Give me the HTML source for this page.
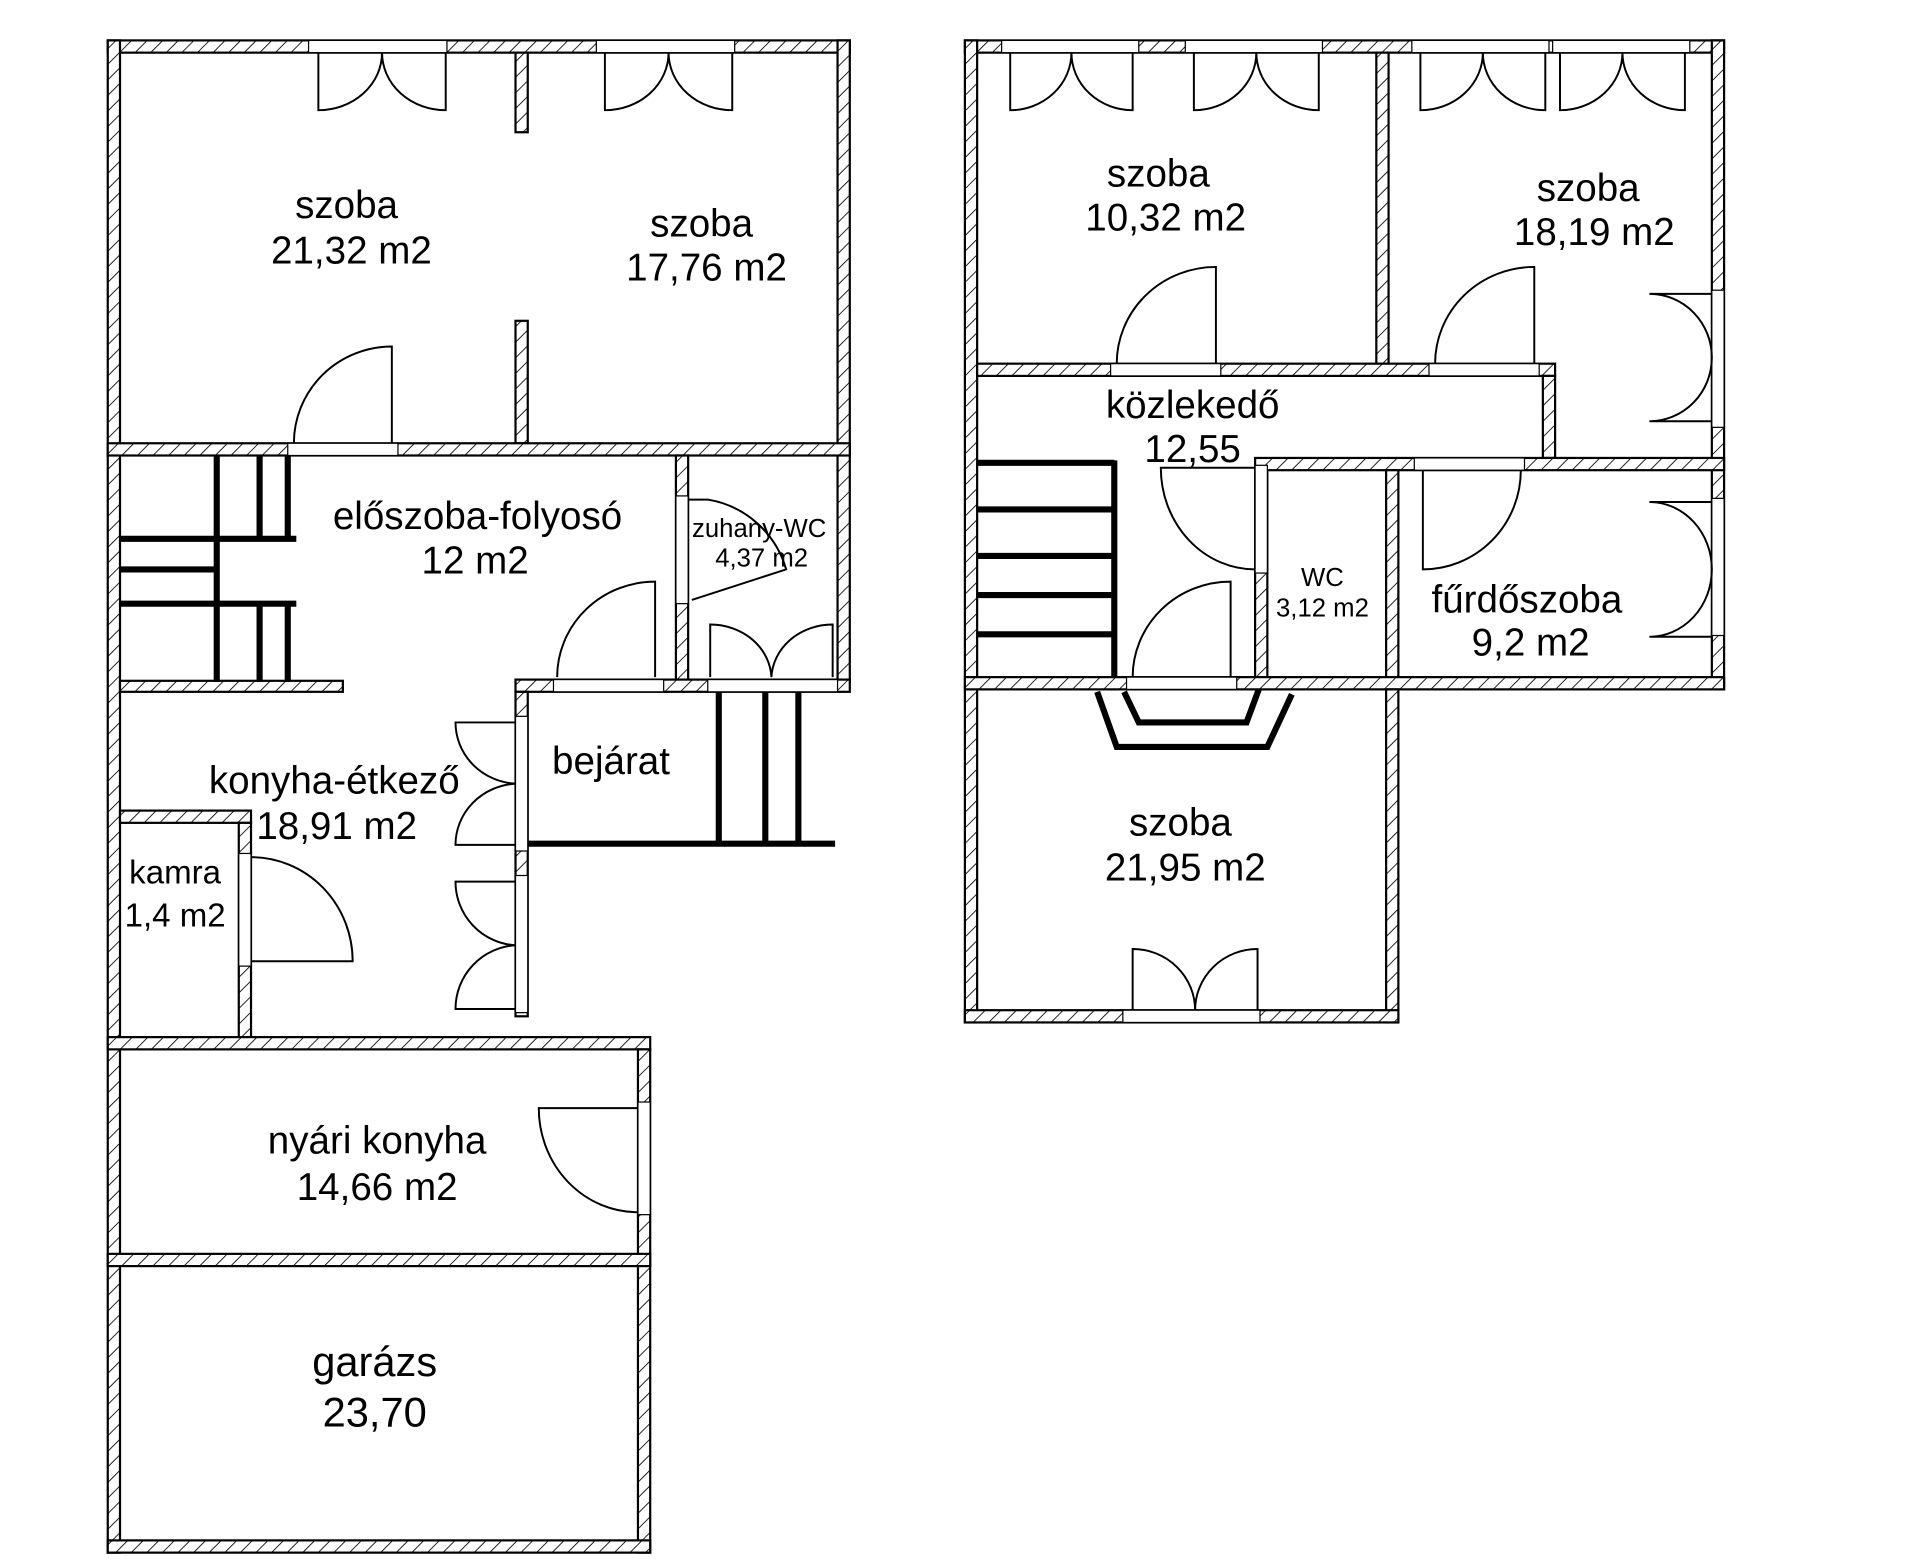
<!DOCTYPE html>
<html><head><meta charset="utf-8"><style>html,body{margin:0;padding:0;background:#fff}svg{display:block}</style></head>
<body>
<svg width="1920" height="1559" viewBox="0 0 1568 1273.2" preserveAspectRatio="none" xmlns="http://www.w3.org/2000/svg">
<defs>
<pattern id="h" width="9" height="9" patternUnits="userSpaceOnUse" patternTransform="rotate(45)">
<rect width="9" height="9" fill="#fff"/><line x1="0" y1="0" x2="0" y2="9" stroke="#000" stroke-width="1.4"/>
</pattern>
</defs>
<g fill="url(#h)" stroke="#000" stroke-width="1.8">
<rect x="88" y="33" width="606" height="10"/>
<rect x="88" y="33" width="10" height="1235"/>
<rect x="684" y="33" width="10" height="524"/>
<rect x="421" y="43" width="10" height="65"/>
<rect x="421" y="262" width="10" height="100"/>
<rect x="88" y="362" width="606" height="10"/>
<rect x="552" y="372" width="10" height="185"/>
<rect x="421" y="555" width="273" height="10"/>
<rect x="98" y="556" width="182" height="9"/>
<rect x="421" y="565" width="10" height="265"/>
<rect x="98" y="662" width="107" height="10"/>
<rect x="195" y="672" width="10" height="178"/>
<rect x="88" y="847" width="443" height="10"/>
<rect x="521" y="857" width="10" height="411"/>
<rect x="88" y="1024" width="443" height="10"/>
<rect x="88" y="1258" width="443" height="10"/>
<rect x="788" y="33" width="620" height="10"/>
<rect x="788" y="33" width="10" height="802"/>
<rect x="1398" y="33" width="10" height="530"/>
<rect x="1124" y="43" width="10" height="254"/>
<rect x="798" y="297" width="472" height="10"/>
<rect x="1260" y="307" width="10" height="67"/>
<rect x="1025" y="374" width="383" height="10"/>
<rect x="1025" y="384" width="10" height="169"/>
<rect x="1132" y="384" width="10" height="169"/>
<rect x="788" y="553" width="620" height="10"/>
<rect x="1132" y="563" width="10" height="272"/>
<rect x="788" y="825" width="354" height="10"/>
</g>
<g fill="#fff" stroke="#000" stroke-width="1">
<rect x="252" y="33" width="113" height="10"/><rect x="487" y="33" width="113" height="10"/>
<rect x="235" y="362" width="90" height="10"/><rect x="452" y="555" width="90" height="10"/>
<rect x="578" y="555" width="106" height="10"/>
<rect x="421" y="585" width="10" height="110"/><rect x="421" y="715" width="10" height="112"/>
<rect x="195" y="697" width="10" height="92"/><rect x="521" y="900" width="10" height="92"/>
<rect x="552" y="405" width="10" height="88"/>
<rect x="818" y="33" width="112" height="10"/><rect x="968" y="33" width="112" height="10"/>
<rect x="1153" y="33" width="112" height="10"/><rect x="1268" y="33" width="112" height="10"/>
<rect x="907" y="297" width="90" height="10"/><rect x="1167" y="297" width="90" height="10"/>
<rect x="1398" y="237" width="10" height="112"/><rect x="1398" y="407" width="10" height="112"/>
<rect x="1025" y="380" width="10" height="88"/><rect x="920" y="553" width="90" height="10"/>
<rect x="1155" y="374" width="90" height="10"/><rect x="917" y="825" width="112" height="10"/>
</g>
<g stroke="#000" stroke-width="5" fill="none">
<line x1="177" y1="372" x2="177" y2="557"/><line x1="212" y1="372" x2="212" y2="440"/><line x1="235" y1="372" x2="235" y2="440"/>
<line x1="212" y1="493" x2="212" y2="557"/><line x1="235" y1="493" x2="235" y2="557"/>
<line x1="98" y1="440" x2="242" y2="440"/><line x1="98" y1="465" x2="178" y2="465"/><line x1="98" y1="493" x2="242" y2="493"/>
<line x1="431" y1="689" x2="682" y2="689"/>
<line x1="587" y1="565" x2="587" y2="689"/><line x1="625" y1="565" x2="625" y2="689"/><line x1="652" y1="565" x2="652" y2="689"/>
<line x1="910" y1="376" x2="910" y2="553"/>
<line x1="798" y1="378" x2="910" y2="378"/><line x1="798" y1="416" x2="910" y2="416"/><line x1="798" y1="454" x2="910" y2="454"/><line x1="798" y1="486" x2="910" y2="486"/><line x1="798" y1="518" x2="910" y2="518"/>
<polyline points="896,565 912,610 1035,610 1055,567"/>
<polyline points="918,565 930,590 1018,590 1028,563"/>
</g>
<g stroke="#000" stroke-width="1.6" fill="none">
<path d="M260 43 V90 A52 47 0 0 0 312 43 A52 47 0 0 0 364 90 V43"/>
<path d="M494 43 V90 A52 47 0 0 0 546 43 A52 47 0 0 0 598 90 V43"/>
<path d="M320 362 V283 A80 79 0 0 0 240 362"/>
<path d="M535 553 V475 A80 78 0 0 0 455 553"/>
<path d="M562 408 H578 A80 80 0 0 1 642 465 L565 490"/>
<path d="M580 553 V510 A50 45 0 0 1 630 553 A50 45 0 0 1 680 510 V553"/>
<path d="M421 590 H372 A52 50 0 0 0 421 640 A52 50 0 0 0 372 690 H421"/>
<path d="M421 720 H372 A52 52 0 0 0 421 772 A52 52 0 0 0 372 824 H421"/>
<path d="M205 785 H288 A83 85 0 0 0 205 700"/>
<path d="M521 905 H440 A81 85 0 0 0 521 990"/>
<path d="M825 43 V90 A50 47 0 0 0 875 43 A50 47 0 0 0 925 90 V43"/>
<path d="M975 43 V90 A51 47 0 0 0 1026 43 A51 47 0 0 0 1077 90 V43"/>
<path d="M1160 43 V90 A51 47 0 0 0 1211 43 A51 47 0 0 0 1262 90 V43"/>
<path d="M1274 43 V90 A51 47 0 0 0 1325 43 A51 47 0 0 0 1376 90 V43"/>
<path d="M993 297 V218 A81 79 0 0 0 912 297"/>
<path d="M1253 297 V218 A81 79 0 0 0 1172 297"/>
<path d="M1398 240 H1347 A51 52 0 0 1 1398 292 A51 52 0 0 1 1347 344 H1398"/>
<path d="M1398 410 H1347 A51 55 0 0 1 1398 465 A51 55 0 0 1 1347 520 H1398"/>
<path d="M1025 382 H948 A77 83 0 0 0 1025 465"/>
<path d="M1005 553 V475 A80 78 0 0 0 925 553"/>
<path d="M1162 384 V465 A80 81 0 0 0 1242 384"/>
<path d="M925 825 V775 A51 50 0 0 1 976 825 A51 50 0 0 1 1027 775 V825"/>
</g>
<g font-family="Liberation Sans, sans-serif" font-size="31.5" fill="#000" text-anchor="middle" dominant-baseline="central">
<text x="283" y="168">szoba</text><text x="287" y="205">21,32 m2</text>
<text x="573" y="183">szoba</text><text x="577" y="219">17,76 m2</text>
<text x="390" y="422">előszoba-folyosó</text><text x="388" y="458">12 m2</text>
<text x="620" y="432" font-size="21">zuhany-WC</text><text x="622" y="456" font-size="21">4,37 m2</text>
<text x="499" y="622">bejárat</text>
<text x="273" y="638">konyha-étkező</text><text x="275" y="675">18,91 m2</text>
<text x="143" y="713" font-size="27">kamra</text><text x="143" y="748" font-size="27">1,4 m2</text>
<text x="308" y="932">nyári konyha</text><text x="308" y="970">14,66 m2</text>
<text x="306" y="1112" font-size="34">garázs</text><text x="306" y="1153" font-size="34">23,70</text>
<text x="946" y="142">szoba</text><text x="952" y="178">10,32 m2</text>
<text x="1297" y="154">szoba</text><text x="1302" y="190">18,19 m2</text>
<text x="974" y="331">közlekedő</text><text x="974" y="367">12,55</text>
<text x="1080" y="472" font-size="21">WC</text><text x="1080" y="497" font-size="21">3,12 m2</text>
<text x="1247" y="490">fűrdőszoba</text><text x="1250" y="525">9,2 m2</text>
<text x="964" y="672">szoba</text><text x="968" y="709">21,95 m2</text>
</g>
</svg>
</body></html>
